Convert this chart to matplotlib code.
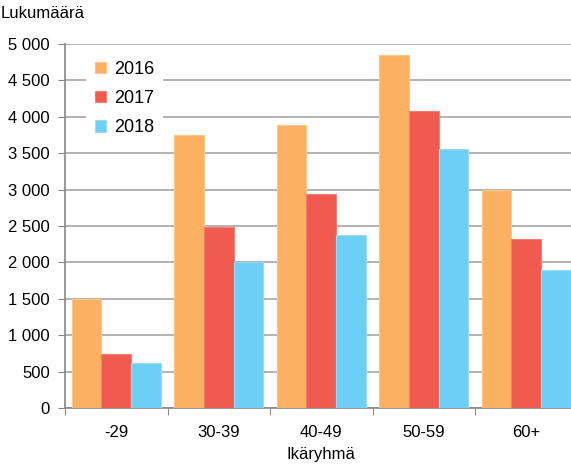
import matplotlib
matplotlib.use("Agg")
import matplotlib.pyplot as plt
import numpy as np
from matplotlib.ticker import FuncFormatter

categories = ["-29", "30-39", "40-49", "50-59", "60+"]
years = ["2016", "2017", "2018"]
v2016 = [1500, 3750, 3890, 4850, 2995]
v2017 = [740, 2490, 2940, 4075, 2325]
v2018 = [620, 2010, 2380, 3555, 1900]
colors = ["#FBB062", "#F15B4F", "#6ECFF6"]
edges = ["#FCC58A", "#F47E74", "#96DCF8"]

plt.rcParams['font.family'] = ['Liberation Sans', 'DejaVu Sans']
fs = 12

fig = plt.figure(figsize=(5.71, 4.67), dpi=100)
ax = fig.add_axes([65/571, 59/467, 512.5/571, 364/467])

x = np.arange(len(categories))
w = 0.288
for i, vals in enumerate([v2016, v2017, v2018]):
    ax.bar(x + (i - 1) * w, vals, w, color=colors[i], edgecolor=edges[i],
           linewidth=0.8, label=years[i], zorder=3)

ax.set_xlim(-0.5, len(categories) - 0.5)
ax.set_ylim(0, 5000)
ax.set_yticks(np.arange(0, 5001, 500))
ax.yaxis.set_major_formatter(FuncFormatter(lambda v, p: f"{int(v):,}".replace(",", " ")))
ax.grid(axis="y", color="#A6A6A6", linewidth=1.2, zorder=0)

ax.set_xticks(np.arange(-0.5, len(categories)), labels=[""] * (len(categories) + 1))
ax.set_xticks(x, labels=categories, minor=True)
ax.tick_params(axis="x", which="major", length=5, color="#888888", direction="out")
ax.tick_params(axis="x", which="minor", length=0, pad=12, labelsize=fs)
ax.tick_params(axis="y", length=5, color="#888888", labelsize=fs, pad=6)

for s in ["top", "right"]:
    ax.spines[s].set_visible(False)
for s in ["left", "bottom"]:
    ax.spines[s].set_color("#888888")
    ax.spines[s].set_linewidth(1.2)

ax.set_xlabel("Ikäryhmä", fontsize=fs, labelpad=5)
fig.text(1/571, 1 - 13/467, "Lukumäärä", fontsize=fs, va="center", ha="left")

leg = ax.legend(loc="upper left", bbox_to_anchor=(0.023, 1.004), frameon=True,
                fontsize=13, handlelength=0.6, handleheight=0.6,
                handletextpad=0.45, labelspacing=0.68, borderpad=0.5)
leg.get_frame().set_edgecolor("none")
leg.get_frame().set_facecolor("white")
leg.get_frame().set_alpha(1)
leg.set_zorder(5)

fig.savefig("out.png", dpi=100)
